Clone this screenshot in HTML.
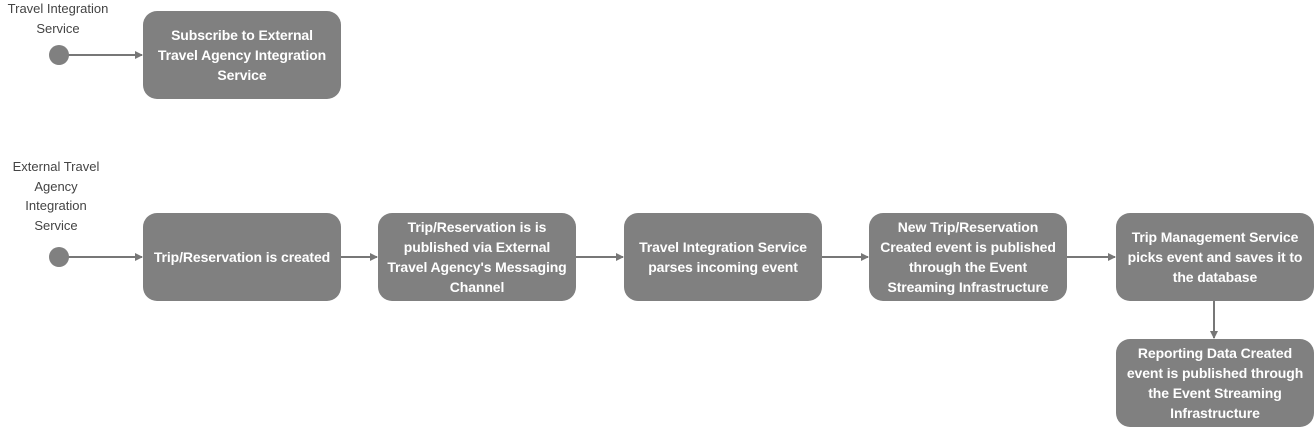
<!DOCTYPE html>
<html><head><style>
body{margin:0;width:1314px;height:428px;background:#fff;position:relative;overflow:hidden;font-family:"Liberation Sans",sans-serif}
.b{position:absolute;width:198px;height:88px;background:#808080;border-radius:14px;color:#fff;font-size:14px;font-weight:bold;line-height:20px;display:flex;align-items:center;justify-content:center;text-align:center;white-space:nowrap;letter-spacing:-0.1px}
.l{position:absolute;color:#444;font-size:13px;line-height:19.5px;text-align:center;width:116px;white-space:nowrap}
</style></head><body>
<svg width="1314" height="428" style="position:absolute;left:0;top:0">
<defs><marker id="a" markerWidth="8" markerHeight="8" refX="7" refY="4" orient="auto" markerUnits="userSpaceOnUse"><path d="M0,0L8,4L0,8z" fill="#777"/></marker></defs>
<g stroke="#777" stroke-width="2" fill="none">
<line x1="65" y1="55" x2="142" y2="55" marker-end="url(#a)"/>
<line x1="65" y1="257" x2="142" y2="257" marker-end="url(#a)"/>
<line x1="341" y1="257" x2="377" y2="257" marker-end="url(#a)"/>
<line x1="576" y1="257" x2="623" y2="257" marker-end="url(#a)"/>
<line x1="821" y1="257" x2="868" y2="257" marker-end="url(#a)"/>
<line x1="1067" y1="257" x2="1115" y2="257" marker-end="url(#a)"/>
<line x1="1214" y1="300" x2="1214" y2="338" marker-end="url(#a)"/>
</g>
<circle cx="59" cy="55" r="10" fill="#808080"/>
<circle cx="59" cy="257" r="10" fill="#808080"/>
</svg>
<div class="l" style="left:0;top:-1px">Travel Integration<br>Service</div>
<div class="l" style="left:-2px;top:157px">External Travel<br>Agency<br>Integration<br>Service</div>
<div class="b" style="left:143px;top:11px">Subscribe to External<br>Travel Agency Integration<br>Service</div>
<div class="b" style="left:143px;top:213px">Trip/Reservation is created</div>
<div class="b" style="left:378px;top:213px">Trip/Reservation is is<br>published via External<br>Travel Agency's Messaging<br>Channel</div>
<div class="b" style="left:624px;top:213px">Travel Integration Service<br>parses incoming event</div>
<div class="b" style="left:869px;top:213px">New Trip/Reservation<br>Created event is published<br>through the Event<br>Streaming Infrastructure</div>
<div class="b" style="left:1116px;top:213px">Trip Management Service<br>picks event and saves it to<br>the database</div>
<div class="b" style="left:1116px;top:339px">Reporting Data Created<br>event is published through<br>the Event Streaming<br>Infrastructure</div>
</body></html>
